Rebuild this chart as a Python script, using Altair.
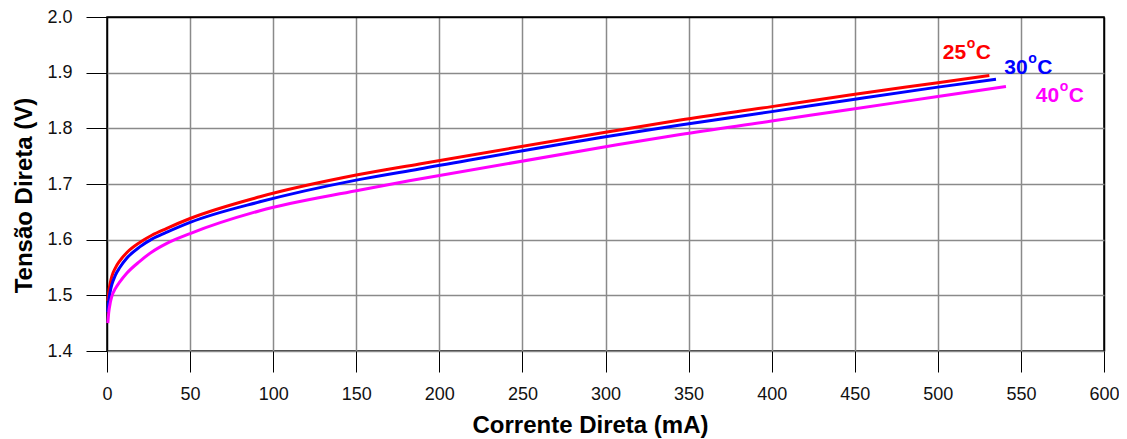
import altair as alt
import pandas as pd

# Series: current (mA) and forward voltage (V)
i_25 = [0.5, 1, 2, 3, 5, 7.7, 12, 19.7, 27, 35.7, 50, 92, 150, 188, 300, 345, 400, 447, 500, 531]
v_25 = [1.49, 1.505, 1.523, 1.535, 1.549, 1.562, 1.577, 1.595, 1.608, 1.620, 1.638, 1.677, 1.716, 1.736,
        1.793, 1.815, 1.839, 1.860, 1.882, 1.895]

i_30 = [0.5, 1, 2, 3, 5, 7.7, 12, 19.7, 27, 35.7, 50, 92, 150, 188, 300, 345, 400, 447, 500, 535]
v_30 = [1.47, 1.488, 1.508, 1.520, 1.536, 1.550, 1.567, 1.587, 1.601, 1.613, 1.631, 1.668, 1.707, 1.727,
        1.785, 1.806, 1.830, 1.851, 1.874, 1.888]

i_40 = [0.5, 1, 2, 3, 5, 7.7, 12, 19.7, 27, 35.7, 50, 92, 150, 188, 300, 345, 400, 447, 500, 541]
v_40 = [1.45, 1.468, 1.487, 1.499, 1.512, 1.524, 1.540, 1.561, 1.578, 1.593, 1.611, 1.652, 1.688, 1.709,
        1.767, 1.789, 1.813, 1.834, 1.857, 1.875]

series_names = ["25°C", "30°C", "40°C"]
series_colors = ["#FF0000", "#0000FF", "#FF00FF"]

label_num = ["25", "30", "40"]
label_sup = ["o", "o", "o"]
label_unit = ["C", "C", "C"]
label_x = [503, 540, 559]
label_y = [1.924, 1.8975, 1.8466]

x_ticks = list(range(0, 601, 50))
y_ticks = [1.4, 1.5, 1.6, 1.7, 1.8, 1.9, 2.0]

rows = []
for name, xs, ys in zip(series_names, [i_25, i_30, i_40], [v_25, v_30, v_40]):
    for k, (a, b) in enumerate(zip(xs, ys)):
        rows.append({"serie": name, "i": a, "v": b, "ord": k})
df = pd.DataFrame(rows)
labels = pd.DataFrame({"serie": series_names, "num": label_num, "sup": label_sup,
                       "unit": label_unit, "i": label_x, "v": label_y})

FONT = "Liberation Sans"
GRID = "#8a8a8a"

x_scale = alt.Scale(domain=[0, 600], nice=False, zero=False)
y_scale = alt.Scale(domain=[1.4, 2.0], nice=False, zero=False)
color_scale = alt.Scale(domain=series_names, range=series_colors)

x_axis = alt.Axis(
    values=x_ticks, title="Corrente Direta (mA)", domain=False, labelFlush=False,
    tickSize=21, tickColor="black", tickWidth=1,
    gridColor={"condition": {"test": "datum.value == 0 || datum.value == 600", "value": "black"}, "value": GRID},
    gridWidth=1.5, labelFontSize=18, labelFont=FONT, labelColor="#111", labelPadding=13,
    titleFont=FONT, titleFontSize=24, titleFontWeight="bold", titleColor="black",
    titleX=483, titleY=81, titleAlign="center", titleBaseline="alphabetic",
)
y_axis = alt.Axis(
    values=y_ticks, format=".1f", title="Tensão Direta (V)", domain=False, labelFlush=False,
    tickSize=21, tickColor="black", tickWidth=1,
    gridColor={"condition": {"test": "datum.value >= 1.99", "value": "black"}, "value": GRID},
    gridWidth=1.5, labelFontSize=18, labelFont=FONT, labelColor="#111", labelPadding=14,
    titleFont=FONT, titleFontSize=24, titleFontWeight="bold", titleColor="black",
    titleX=-76, titleY=178, titleAlign="center", titleBaseline="alphabetic", titleAngle=-90,
)

lines = alt.Chart(df).mark_line(strokeWidth=3, interpolate="monotone").encode(
    x=alt.X("i:Q", scale=x_scale, axis=x_axis),
    y=alt.Y("v:Q", scale=y_scale, axis=y_axis),
    color=alt.Color("serie:N", scale=color_scale, legend=None),
    order="ord:Q",
)

def label_layer(field, size, dx, dy):
    return alt.Chart(labels).mark_text(
        align="left", baseline="alphabetic", font=FONT, fontSize=size, fontWeight="bold",
        dx=dx, dy=dy,
    ).encode(
        x=alt.X("i:Q", scale=x_scale),
        y=alt.Y("v:Q", scale=y_scale),
        text=f"{field}:N",
        color=alt.Color("serie:N", scale=color_scale, legend=None),
    )

num_layer = label_layer("num", 21, 0, 0)
sup_layer = label_layer("sup", 14, 24, -11)
unit_layer = label_layer("unit", 21, 33, 0)

chart = alt.layer(lines, num_layer, sup_layer, unit_layer).properties(
    width=997, height=334,
    autosize=alt.AutoSizeParams(type="none"),
    padding={"left": 99, "top": 9, "right": 15, "bottom": 87},
).configure_view(stroke="black", strokeWidth=1.5)

chart.save("out.html", embed_options={"renderer": "svg", "actions": False})
